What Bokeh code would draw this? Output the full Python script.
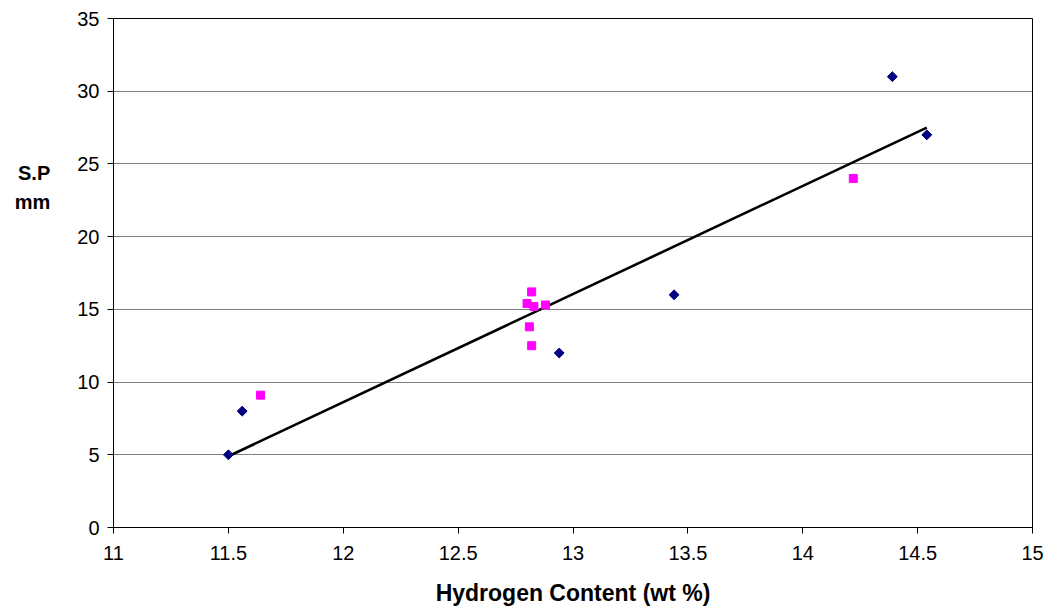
import math
from bokeh.plotting import figure
from bokeh.models import Range1d, FixedTicker
from bokeh.embed import file_html
from bokeh.resources import INLINE

# Series 1 (navy diamonds)
blue_x = [11.50, 11.56, 12.94, 13.44, 14.39, 14.54]
blue_y = [5.0, 8.0, 12.0, 16.0, 31.0, 27.0]
# Series 2 (magenta squares)
pink_x = [11.64, 12.82, 12.80, 12.83, 12.88, 12.81, 12.82, 14.22]
pink_y = [9.1, 16.2, 15.4, 15.2, 15.3, 13.8, 12.5, 24.0]
# Trend line (read endpoints)
trend_x = [11.50, 14.54]
trend_y = [4.9, 27.5]

x_ticks = [11, 11.5, 12, 12.5, 13, 13.5, 14, 14.5, 15]
y_ticks = [0, 5, 10, 15, 20, 25, 30, 35]

p = figure(width=1048, height=608, output_backend="svg", toolbar_location=None,
           x_range=Range1d(11, 15), y_range=Range1d(0, 35),
           min_border_left=113, min_border_top=18, min_border_right=16, min_border_bottom=81)

p.background_fill_color = "white"
p.border_fill_color = "white"
p.outline_line_color = "black"
p.outline_line_width = 1

p.xgrid.grid_line_color = None
p.ygrid.grid_line_color = "#808080"
p.ygrid.grid_line_width = 1

p.xaxis.ticker = FixedTicker(ticks=x_ticks)
p.yaxis.ticker = FixedTicker(ticks=y_ticks)
for ax in (p.xaxis, p.yaxis):
    ax.axis_line_color = "black"
    ax.major_tick_line_color = "black"
    ax.major_tick_in = 0
    ax.major_tick_out = 6
    ax.minor_tick_line_color = None
    ax.major_label_text_font = "Liberation Sans"
    ax.major_label_text_font_size = "20px"
    ax.major_label_text_color = "black"

p.xaxis.major_label_standoff = 12
p.yaxis.major_label_standoff = 8
p.xaxis.major_label_overrides = {11: "11", 12: "12", 13: "13", 14: "14", 15: "15"}

p.xaxis.axis_label = "Hydrogen Content (wt %)"
p.xaxis.axis_label_text_font = "Liberation Sans"
p.xaxis.axis_label_text_font_style = "bold"
p.xaxis.axis_label_text_font_size = "23px"
p.xaxis.axis_label_text_color = "black"
p.xaxis.axis_label_standoff = 17

# y title: two visible lines, padded below so that it sits above the axis middle
p.yaxis.axis_label = "S.P\nmm" + "\n " * 6
p.yaxis.axis_label_orientation = "horizontal"
p.yaxis.axis_label_text_font = "Liberation Sans"
p.yaxis.axis_label_text_font_style = "bold"
p.yaxis.axis_label_text_font_size = "20px"
p.yaxis.axis_label_text_color = "black"
p.yaxis.axis_label_text_line_height = 1.3
p.yaxis.axis_label_standoff = 24

p.line(trend_x, trend_y, line_color="black", line_width=2.6)
p.scatter(blue_x, blue_y, marker="square", angle=math.pi / 4, size=7,
          fill_color="#000080", line_color="#000080")
p.scatter(pink_x, pink_y, marker="square", size=8, fill_color="#FF00FF", line_color="#FF00FF")

open("out.html", "w").write(file_html(p, INLINE))
